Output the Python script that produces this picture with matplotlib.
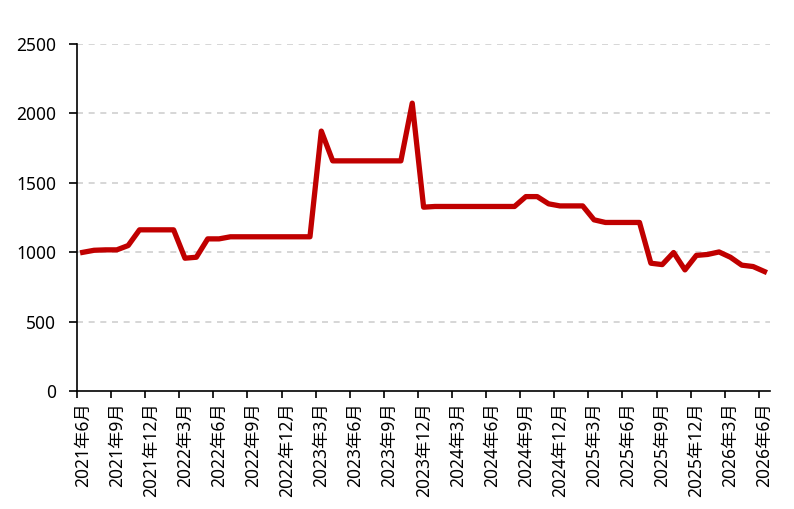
import numpy as np
import matplotlib
matplotlib.use('Agg')
import matplotlib.pyplot as plt

plt.rcParams['font.family'] = ['Noto Sans', 'Noto Sans CJK SC', 'DejaVu Sans']

# monthly series, 2021-06 .. 2026-06
months = []
for k in range(61):
    y = 2021 + (5 + k) // 12
    m = (5 + k) % 12 + 1
    months.append(f'{y}年{m}月')

values = [1000, 1015, 1018, 1018, 1049, 1162, 1162, 1162, 1162, 958,
          965, 1097, 1097, 1112, 1112, 1112, 1112, 1112, 1112, 1112,
          1112, 1872, 1658, 1658, 1658, 1658, 1658, 1658, 1658, 2073,
          1325, 1330, 1330, 1330, 1330, 1330, 1330, 1330, 1330, 1401,
          1401, 1349, 1334, 1334, 1334, 1234, 1215, 1215, 1215, 1215,
          922, 912, 999, 874, 978, 985, 1003, 965, 908, 898,
          862]

yticks = [0, 500, 1000, 1500, 2000, 2500]

fig = plt.figure(figsize=(7.94, 5.09), dpi=100)
ax = fig.add_axes([0.097, 0.231, 0.873, 0.683])

x = np.arange(len(values))
ax.plot(x, values, color='#C00000', linewidth=3.8, solid_joinstyle='round', zorder=3)

ax.set_xlim(-0.5, len(values) - 0.5)
ax.set_ylim(0, 2500)
ax.set_yticks(yticks)
ax.set_yticklabels([str(v) for v in yticks], fontsize=12.5)
for v in yticks[1:]:
    ax.axhline(v, color='#D0D0D0', linewidth=1.2, linestyle=(0, (3.6, 3.4)), zorder=1)

# boundary ticks every 3 months, labels at month centres
ax.set_xticks(np.arange(-0.5, len(values), 3))
ax.set_xticklabels([])
ax.set_xticks(x[::3], minor=True)
ax.set_xticklabels(months[::3], minor=True, rotation=90, fontsize=12.5)
ax.tick_params(axis='x', which='major', length=5, width=1.2, direction='out')
ax.tick_params(axis='x', which='minor', length=0, pad=8)
ax.tick_params(axis='y', length=6, width=1.2, pad=9)

for s in ['top', 'right']:
    ax.spines[s].set_visible(False)
for s in ['left', 'bottom']:
    ax.spines[s].set_linewidth(1.2)

fig.savefig('out.png', dpi=100)
